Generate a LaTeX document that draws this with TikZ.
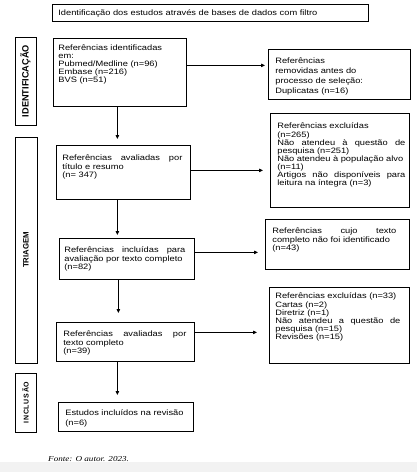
\documentclass[tikz,border=0pt]{standalone}
\usepackage{fontspec}
\usetikzlibrary{arrows.meta,calc}
\newfontfamily\txtfont[FakeStretch=1.19]{Liberation Sans}
\newfontfamily\sidefont{Liberation Sans}
\newfontfamily\capfont[FakeStretch=1.2]{Liberation Serif}
% #1 box width, #2 box height, #3 left pad, #4 text width, #5 top pad, #6 text
\newcommand\bxt[6]{\makebox[#1pt][l]{\hspace*{#3pt}\parbox[t][#2pt][t]{#4pt}{\vspace*{#5pt}\raggedright\strut #6}}}
\tikzset{
  bx/.style={draw, line width=0.75pt, anchor=north west, inner sep=0pt,
    font=\txtfont\fontsize{7.8}{8}\selectfont},
  side/.style={draw, line width=0.75pt, rotate=90, inner sep=0pt,
    font=\sidefont\bfseries},
  arr/.style={line width=0.75pt, -{Triangle[length=4pt,width=3.5pt]}},
  captxt/.style={anchor=west, inner sep=0pt, font=\capfont\itshape\fontsize{7.6}{8}\selectfont},
}
\begin{document}
\begin{tikzpicture}[x=1pt,y=-1pt]
\useasboundingbox (0,0) rectangle (417,472);
\fill[white] (0,0) rectangle (417,472);
\fill[black!5] (0,462) rectangle (417,472);

% title box
\node[bx] (top) at (52,4) {\bxt{316}{17}{6}{300}{5.5}{Identificação dos estudos através de bases de dados com filtro}};

% side labels
\node[side, minimum width=88pt, minimum height=21pt] (sid) at (25.5,81)
  {\fontsize{9.2}{10}\selectfont IDENTIFICAÇÃO};
\node[side, minimum width=226pt, minimum height=22pt] (stri) at (26,250)
  {\fontsize{7.8}{9}\selectfont TRIAGEM};
\node[side, minimum width=59pt, minimum height=21pt] (sinc) at (25.5,402.5)
  {\fontsize{7}{9}\selectfont\addfontfeature{LetterSpace=10}INCLUSÃO};

% main column
\node[bx] (b1) at (53,38) {\bxt{133}{68}{5}{125}{6}{Referências identificadas\\em:\\Pubmed/Medline (n=96)\\Embase (n=216)\\BVS (n=51)}};
\node[bx] (b3) at (56,145) {\bxt{134}{54}{6}{120}{9}{Referências\hfill avaliadas\hfill por\\título e resumo\\(n= 347)}};
\node[bx] (b4) at (59,238) {\bxt{135}{41}{5}{121}{8}{Referências\hfill incluídas\hfill para\\avaliação por texto completo\\(n=82)}};
\node[bx] (b5) at (56,322) {\bxt{138}{39}{7}{123}{8}{Referências\hfill avaliadas\hfill por\\texto completo\\(n=39)}};
\node[bx] (b6) at (58,402) {\bxt{135}{29}{7}{125}{7}{\fontsize{7.8}{9.3}\selectfont\strut Estudos incluídos na revisão\\(n=6)}};

% right column
\node[bx] (b2) at (268,49) {\bxt{142}{50}{7}{130}{7}{\fontsize{7.8}{10}\selectfont\strut Referências\\removidas antes do\\processo de seleção:\\Duplicatas (n=16)}};
\node[bx] (e1) at (270,113) {\bxt{139}{94}{7}{128}{9}{Referências excluídas\\(n=265)\\Não\hfill atendeu\hfill à\hfill questão\hfill de\\pesquisa (n=251)\\Não atendeu à população alvo\\(n=11)\\Artigos\hfill não\hfill disponíveis\hfill para\\leitura na íntegra (n=3)}};
\node[bx] (e2) at (265,219) {\bxt{144}{50}{7}{124}{8}{Referências\hfill cujo\hfill texto\\completo não foi identificado\\(n=43)}};
\node[bx] (e3) at (269,287) {\bxt{140}{76}{6}{125}{5.5}{Referências excluídas (n=33)\\Cartas (n=2)\\Diretriz (n=1)\\Não\hfill atendeu\hfill a\hfill questão\hfill de\\pesquisa (n=15)\\Revisões (n=15)}};

% vertical arrows
\coordinate (v1) at ([xshift=-2.5pt]b1.south);
\draw[arr, shorten >=6pt] (v1) -- (v1 |- b3.north);
\coordinate (v2) at ([xshift=-6pt]b3.south);
\draw[arr, shorten >=3pt] (v2) -- (v2 |- b4.north);
\coordinate (v3) at ([xshift=-8.5pt]b4.south);
\draw[arr, shorten >=9pt] (v3) -- (v3 |- b5.north);
\coordinate (v4) at ([xshift=-8pt]b5.south);
\draw[arr, shorten >=7pt] (v4) -- (v4 |- b6.north);

% horizontal arrows
\coordinate (h1) at ([yshift=7pt]b1.east);
\draw[arr, shorten >=3pt] (h1) -- (h1 -| b2.west);
\coordinate (h2) at ([yshift=2pt]b3.east);
\draw[arr, shorten >=7pt] (h2) -- (h2 -| e1.west);
\coordinate (h3) at ([yshift=6.5pt]b4.east);
\draw[arr, shorten >=7pt] (h3) -- (h3 -| e2.west);
\coordinate (h4) at ([yshift=9.5pt]b5.east);
\draw[arr, shorten >=12pt] (h4) -- (h4 -| e3.west);

% caption
\node[captxt] (fonte) at (48,459) {Fonte: O autor. 2023.};
\end{tikzpicture}
\end{document}
